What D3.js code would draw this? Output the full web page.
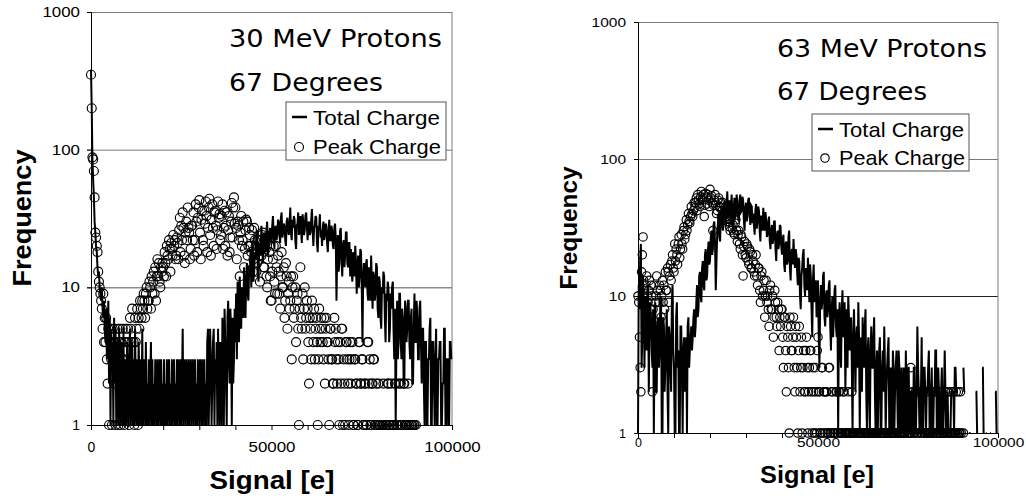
<!DOCTYPE html>
<html><head><meta charset="utf-8">
<script src="https://cdn.jsdelivr.net/npm/d3@7"></script>
<style>body{margin:0;background:#fff}svg{display:block}</style>
</head><body>
<svg id="c" width="1026" height="502"></svg>
<script>
// ---- data ----
const binStep = 200; // signal bin width [e]
const xTickLabels = [0, 50000, 100000];
const xMinorTicks = [0,10000,20000,30000,40000,50000,60000,70000,80000,90000,100000];
const yTickLabels = [1, 10, 100, 1000];
const seriesNames = ["Total Charge", "Peak Charge"];
const leftTitle = ["30 MeV Protons", "67 Degrees"];
const rightTitle = ["63 MeV Protons", "67 Degrees"];
const xAxisTitle = "Signal [e]";
const yAxisTitle = "Frequency";

// 30 MeV: one value per 200 e bin (0 = empty bin)
const leftTotal = [
380,200,85,60,45,30,25,20,18,14,12,13,10,9,8,10,7,6,8,5,
4,7,3,5,8,2,6,1,5,3,4,1,6,2,5,1,3,4,1,5,
2,1,4,3,1,5,1,2,3,1,4,2,1,3,5,1,2,4,1,3,
1,5,2,1,3,1,4,2,1,3,1,5,1,2,3,1,4,1,2,1,
3,1,2,4,1,3,1,2,1,3,2,1,3,1,2,3,1,3,1,2,
1,3,1,2,1,3,1,2,3,1,2,1,3,1,2,3,1,2,1,3,
1,3,2,1,3,1,2,5,1,3,2,1,3,2,1,3,1,2,3,1,
2,3,1,2,3,1,2,1,3,2,1,3,2,1,3,1,2,3,1,2,
1,4,5,1,2,5,3,1,2,4,5,1,3,2,4,1,5,2,1,4,
2,1,6,3,1,7,4,2,1,6,8,3,2,7,5,1,6,2,3,7,
4,9,3,11,6,4,12,7,5,10,9,6,14,8,6,12,15,9,8,13,
12,19,10,15,22,11,13,18,16,25,26,14,11,21,20,17,28,22,15,24,
25,20,18,26,30,17,20,25,27,21,22,28,33,24,19,27,28,22,24,31,
30,24,21,32,35,23,25,29,28,22,20,30,32,26,24,29,38,25,22,31,
27,33,31,22,19,28,29,35,24,27,33,25,21,34,30,24,26,33,35,28,
22,29,30,24,25,31,37,26,20,27,28,33,32,21,18,28,27,34,23,26,
20,27,30,22,24,29,28,21,18,25,31,22,22,28,26,20,19,27,29,23,
8,18,24,13,15,26,27,16,12,20,22,14,17,25,25,15,14,21,21,12,
19,13,11,18,16,12,20,15,9,14,17,10,12,19,18,10,4,12,15,11,
10,15,16,9,8,14,13,8,17,11,7,13,12,8,9,15,14,7,6,12,
11,6,5,10,9,13,12,6,4,9,8,11,10,4,5,9,7,10,11,5,
3,7,1,4,8,3,4,9,9,4,3,7,6,2,2,8,7,4,5,8,
8,4,3,6,7,2,2,5,9,4,4,8,6,3,3,7,8,4,2,5,
5,2,1,4,4,1,1,3,3,5,6,1,1,4,4,2,1,3,5,1,
1,3,3,4,4,1,1,2,2,5,5,1,1,3,3,1,1,4,4,3];

const leftPeak = [
350,200,88,85,70,45,25,23,20,18,13,11,10,9,8,7,5,9,4,6,
4,6,3,2,5,1,4,5,3,1,5,4,2,5,1,4,3,5,1,4,
5,1,4,3,5,2,1,4,5,3,2,5,4,1,6,5,4,7,2,4,
1,6,4,5,7,1,6,5,8,7,6,8,7,9,8,6,9,10,7,8,
8,11,10,7,12,9,11,13,9,14,8,12,16,12,15,11,10,14,13,15,
14,12,18,15,12,20,17,16,22,19,13,21,19,17,24,20,22,16,17,23,
21,16,26,32,18,28,22,35,27,17,15,25,30,22,38,27,25,16,19,28,
28,22,35,17,22,40,30,18,32,38,43,25,16,31,36,22,20,36,29,42,
33,18,27,38,44,24,17,31,40,27,20,35,36,28,19,26,42,32,34,22,
24,33,40,19,27,36,20,28,35,17,26,33,18,23,30,41,23,38,45,29,
38,27,16,30,28,22,12,25,33,20,22,30,14,19,26,31,30,17,20,27,
24,20,18,26,13,16,27,22,20,13,15,22,22,17,11,19,17,24,25,14,
14,20,19,12,10,16,22,18,12,8,8,13,16,20,11,9,20,14,9,17,
13,9,7,12,18,10,10,14,6,8,15,12,5,9,11,7,8,12,3,10,
12,6,7,10,4,8,9,5,1,7,14,6,5,9,3,7,10,5,6,8,
7,4,2,6,5,3,8,6,4,7,3,5,6,4,1,3,7,5,4,6,
5,4,3,6,2,5,6,4,4,3,1,5,5,3,3,2,2,6,4,5,
3,2,4,3,1,4,2,5,5,1,3,2,1,4,4,3,2,1,3,4,
2,3,4,1,1,3,3,2,2,1,1,4,4,2,2,3,3,1,1,2,
2,1,1,4,4,2,3,1,1,2,2,3,3,1,1,2,1,1,2,1,
1,1,0,1,1,2,1,0,0,1,1,2,2,1,1,0,2,1,0,1,
1,2,2,1,1,1,2,0,1,2,1,1,0,2,2,1,1,1,1,2,
1,1,0,1,1,1,0,1,1,0,1,0,0,0,0,0,0,0,0,0,
0,0,0,0,0,0,0,0,0,0,0,0,0,0,0,0,0,0,0,0,
0,0,0,0,0,0,0,0,0,0,0,0,0,0,0,0,0,0,0,0];

// 63 MeV
const rightTotal = [
1,12,8,18,24,3,5,14,9,3,10,6,4,11,12,2,6,9,7,4,
3,8,1,5,9,2,2,6,7,3,4,9,10,1,1,7,6,2,3,5,
8,2,1,6,5,3,2,9,12,4,3,1,1,7,9,3,4,1,1,6,
6,3,1,4,5,2,3,5,1,6,7,3,4,5,6,4,5,7,8,5,
6,9,12,7,8,14,15,10,9,16,18,12,11,20,22,13,14,21,25,17,
18,26,30,20,22,33,35,24,11,18,28,34,40,27,25,38,45,33,30,42,
50,36,32,48,58,40,38,50,45,36,55,42,30,44,52,37,40,55,48,38,
35,50,55,41,42,53,50,36,30,44,48,35,38,50,52,40,33,46,45,34,
40,33,28,42,47,31,35,45,42,30,25,38,38,30,44,36,30,41,36,27,
28,35,38,25,22,30,33,24,26,35,35,22,18,28,30,22,24,33,32,23,
20,26,28,17,15,24,25,17,18,27,30,16,13,21,22,17,26,19,16,22,
20,15,12,19,18,10,8,14,16,20,22,12,10,16,15,11,19,14,9,17,
14,8,5,13,17,9,11,13,7,10,13,5,3,9,12,8,9,14,15,7,
6,10,11,7,8,12,13,6,4,8,10,5,7,11,12,6,5,8,1,6,
9,4,3,8,11,5,6,9,2,5,8,3,10,7,4,6,7,3,1,5,
8,4,2,5,6,3,9,5,1,4,5,2,7,4,3,6,8,2,1,4,
5,2,1,4,6,3,3,5,7,2,1,3,4,1,2,4,5,1,1,3,
4,2,6,3,1,2,3,4,5,1,1,3,2,1,4,3,1,2,3,4,
2,1,4,3,1,2,3,1,1,3,2,1,4,2,1,3,3,1,1,2,
2,1,1,3,3,1,1,2,6,3,2,1,1,2,5,1,1,3,3,2,
1,2,2,3,4,1,1,2,3,1,1,2,2,4,4,1,1,3,2,1,
1,2,3,1,1,2,4,2,1,1,2,1,1,1,1,2,2,2,2,1,
3,3,2,0,0,1,1,1,1,0,0,0,3,2,0,2,0,0,0,0,
1,1,1,0,0,0,1,0,0,2,2,1,0,0,0,0,0,0,3,3,
1,0,0,1,1,0,0,0,0,1,1,0,0,0,0,0,2,2,1,0];

const rightPeak = [
10,9,5,3,2,15,20,27,13,11,12,8,14,10,9,11,13,8,12,10,
2,8,12,6,9,10,14,11,5,9,12,11,7,10,13,9,12,8,15,11,
11,16,15,9,14,17,13,18,20,16,15,24,18,22,20,17,24,27,19,22,
28,24,22,30,32,26,28,36,30,33,40,35,34,38,45,40,38,42,48,44,
48,52,42,55,50,47,45,53,58,50,52,55,38,46,56,52,47,55,50,45,
60,52,54,48,30,46,50,55,46,40,42,50,52,45,44,48,38,42,48,40,
40,36,45,38,35,42,42,32,30,36,38,31,33,29,28,34,36,30,25,28,
30,24,22,28,27,20,14,23,25,20,19,24,23,18,17,22,21,16,16,20,
18,15,14,17,20,14,12,16,16,11,9,14,15,10,11,13,7,10,13,9,
10,8,6,11,12,8,8,10,5,7,11,9,7,6,9,8,4,7,6,8,
8,5,3,7,7,4,2,6,5,3,1,7,6,4,4,5,7,3,2,6,
5,3,1,4,6,2,3,5,1,3,4,2,2,4,5,3,1,2,3,4,
4,2,1,3,2,1,3,2,1,4,5,2,2,1,1,3,3,1,2,2,
1,2,2,1,1,3,3,1,1,2,2,1,1,1,1,2,2,1,1,2,
2,1,1,1,1,2,2,1,1,1,1,1,2,1,1,1,1,2,1,1,
1,1,1,0,0,1,1,1,1,1,1,0,0,1,1,1,1,1,1,1,
1,1,0,1,1,1,1,1,1,0,1,1,1,1,0,0,1,1,1,1,
1,1,1,1,0,1,1,1,1,0,0,1,1,1,1,1,1,1,0,1,
1,1,0,1,1,1,1,0,1,1,1,1,0,0,1,1,1,1,1,3,
1,2,2,1,1,2,2,1,2,1,0,0,1,2,1,2,2,1,1,1,
2,1,1,1,1,2,1,1,2,1,1,1,2,2,1,1,1,1,2,1,
1,1,2,1,1,1,1,2,1,1,2,2,1,1,1,2,1,1,2,1,
1,1,2,1,1,2,1,1,2,1,0,0,1,0,0,0,0,0,0,0,
0,0,0,0,0,0,0,0,0,0,0,0,0,0,0,0,0,0,0,0,
0,0,0,0,0,0,0,0,0,0,0,0,0,0,0,0,0,0,0,0];

// ---- drawing ----
const svg = d3.select("#c");
svg.append("rect").attr("width",1026).attr("height",502).attr("fill","#fff");

function drawPanel(total, peak, title, L) {
  const x = d3.scaleLinear().domain([0, 100000]).range([L.x0, L.x1]);
  const y = d3.scaleLog().domain([1, 1000]).range([L.y0, L.y1]);
  const g = svg.append("g");
  const W = L.x1 - L.x0;

  // gridlines (incl. top border) with outward ticks
  const grid = g.append("g").attr("transform", `translate(${L.x1},0)`)
    .call(d3.axisLeft(y).tickValues([10,100,1000]).tickSize(W + 4).tickFormat(""));
  grid.select(".domain").remove();
  grid.selectAll("line").attr("stroke", d => d === 10 ? L.grid10 : "#7a7a7a").attr("stroke-width", 1);
  g.append("line").attr("x1", L.x1).attr("x2", L.x1).attr("y1", y(1000)).attr("y2", y(1))
    .attr("stroke", "#7a7a7a");

  // data
  const tot = total.map((v, i) => ({x: i * binStep, v}));
  const pk = peak.map((v, i) => ({x: i * binStep, v})).filter(d => d.v > 0);
  const line = d3.line().defined(d => d.v > 0).x(d => x(d.x)).y(d => y(d.v));
  g.append("path").datum(tot).attr("d", line).attr("fill", "none")
    .attr("stroke", "#000").attr("stroke-width", L.lw).attr("stroke-linejoin", "miter");
  g.append("g").selectAll("circle").data(pk).join("circle")
    .attr("cx", d => x(d.x)).attr("cy", d => y(d.v)).attr("r", L.r)
    .attr("fill", "none").attr("stroke", "#000").attr("stroke-width", 1.15);

  // y axis
  const ya = g.append("g").attr("transform", `translate(${L.x0},0)`)
    .call(d3.axisLeft(y).tickValues(yTickLabels).tickFormat(d3.format("d")).tickSize(4).tickPadding(L.yPad));
  ya.select(".domain").attr("stroke", "#000");
  ya.selectAll("text").attr("font-family", "Liberation Sans, Arial, sans-serif")
    .attr("font-size", L.tickFs).attr("fill", "#000")
    .each(function(d) { const s = String(d); if (s.length > 1) d3.select(this).attr("textLength", s.length * L.digitW).attr("lengthAdjust", "spacingAndGlyphs"); });

  // x axis ticks + labels
  const xt = g.append("g").attr("transform", `translate(0,${L.y0})`)
    .call(d3.axisBottom(x).tickValues(xMinorTicks).tickFormat("").tickSize(5));
  xt.select(".domain").attr("stroke", "#000");
  xt.selectAll("line").attr("stroke", "#000");
  const xl = g.append("g").attr("transform", `translate(0,${L.y0})`)
    .call(d3.axisBottom(x).tickValues(xTickLabels).tickFormat(d3.format("d")).tickSize(0).tickPadding(L.xPad));
  xl.select(".domain").remove();
  xl.selectAll("text").attr("font-family", "Liberation Sans, Arial, sans-serif")
    .attr("font-size", L.tickFs).attr("fill", "#000")
    .each(function(d) { const s = String(d); if (s.length > 1) d3.select(this).attr("textLength", s.length * L.digitW).attr("lengthAdjust", "spacingAndGlyphs"); });

  // axis titles
  g.append("text").attr("x", L.xtX).attr("y", L.xtY).attr("text-anchor", "middle")
    .attr("font-family", "Liberation Sans, Arial, sans-serif").attr("font-weight", "bold")
    .attr("font-size", L.titleFs).attr("textLength", L.xtLen).attr("lengthAdjust", "spacingAndGlyphs")
    .text(xAxisTitle);
  g.append("text").attr("transform", `translate(${L.ytX},${L.ytY}) rotate(-90)`).attr("text-anchor", "middle")
    .attr("font-family", "Liberation Sans, Arial, sans-serif").attr("font-weight", "bold")
    .attr("font-size", L.titleFs).attr("textLength", L.ytLen).attr("lengthAdjust", "spacingAndGlyphs")
    .text(yAxisTitle);

  // annotation
  title.forEach((t, i) => {
    g.append("text").attr("x", L.annX).attr("y", L.annY[i])
      .attr("font-family", "DejaVu Sans, sans-serif").attr("font-size", 24)
      .attr("textLength", L.annLen[i]).attr("lengthAdjust", "spacingAndGlyphs").text(t);
  });

  // legend
  const lg = g.append("g");
  lg.append("rect").attr("x", L.lgX).attr("y", L.lgY).attr("width", L.lgW).attr("height", L.lgH)
    .attr("fill", "#fff").attr("stroke", "#555").attr("stroke-width", 1);
  lg.append("line").attr("x1", L.lgX + 6).attr("x2", L.lgX + 21).attr("y1", L.lgRow[0] - 8).attr("y2", L.lgRow[0] - 8)
    .attr("stroke", "#000").attr("stroke-width", 2.5);
  lg.append("circle").attr("cx", L.lgX + 13).attr("cy", L.lgRow[1] - 7).attr("r", L.r)
    .attr("fill", "none").attr("stroke", "#000").attr("stroke-width", 1.15);
  seriesNames.forEach((s, i) => {
    lg.append("text").attr("x", L.lgX + 27).attr("y", L.lgRow[i])
      .attr("font-family", "Liberation Sans, Arial, sans-serif").attr("font-size", 21)
      .attr("textLength", L.lgLen[i]).attr("lengthAdjust", "spacingAndGlyphs").text(s);
  });
}

drawPanel(leftTotal, leftPeak, leftTitle, {
  x0: 91, x1: 452, y0: 425, y1: 12, lw: 2, r: 4.5, grid10: "#555",
  tickFs: 14, digitW: 9.4, yPad: 7, xPad: 17,
  titleFs: 26, xtX: 272, xtY: 489, xtLen: 125, ytX: 31, ytY: 218, ytLen: 137,
  annX: 229, annY: [47, 91], annLen: [213, 154],
  lgX: 286, lgY: 102, lgW: 160, lgH: 58, lgRow: [125, 154], lgLen: [127, 128]
});
drawPanel(rightTotal, rightPeak, rightTitle, {
  x0: 638, x1: 998, y0: 433, y1: 22, lw: 2, r: 4.2, grid10: "#222",
  tickFs: 12.5, digitW: 8.6, yPad: 8, xPad: 5,
  titleFs: 23, xtX: 817, xtY: 483, xtLen: 114, ytX: 577, ytY: 228, ytLen: 123,
  annX: 777, annY: [57, 100], annLen: [210, 150],
  lgX: 812, lgY: 114, lgW: 157, lgH: 57, lgRow: [137, 165], lgLen: [125, 126]
});
</script>
</body></html>
